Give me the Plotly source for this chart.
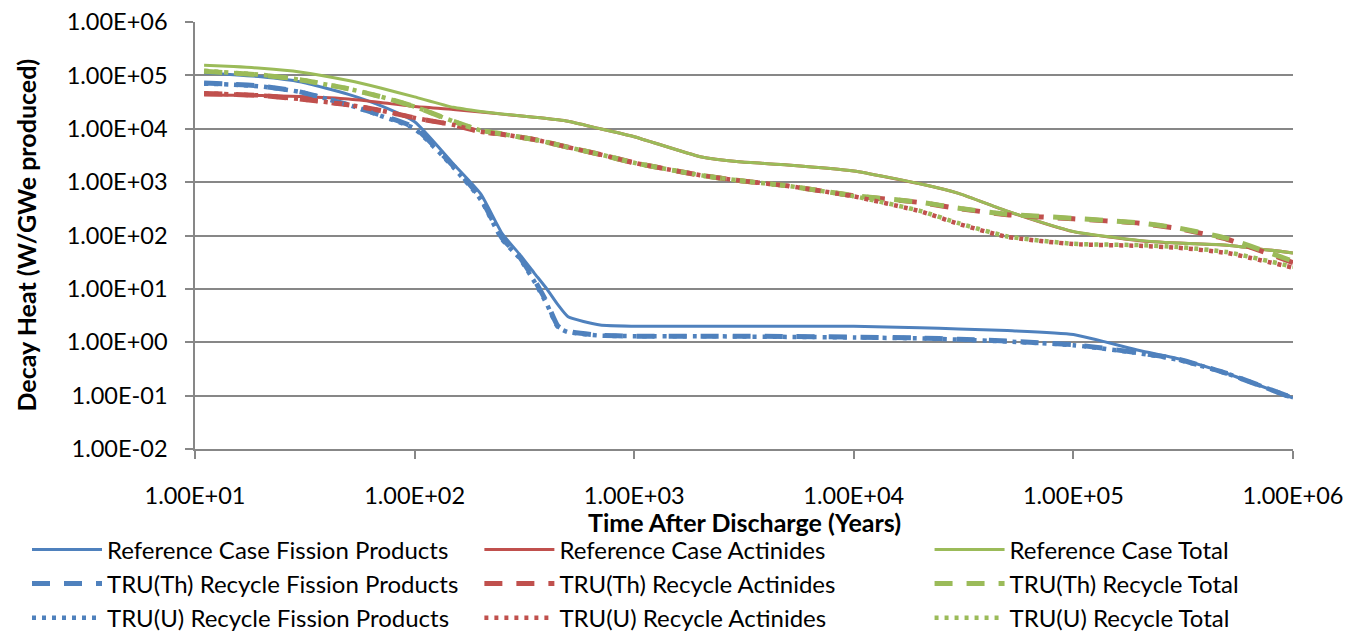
import plotly.graph_objects as go

# Time after discharge (years)
years = [11, 15, 20, 30, 50, 70, 100, 150, 200, 250, 300, 350, 400, 450, 500,
         700, 1000, 2000, 3000, 5000, 1e4, 2e4, 3e4, 5e4, 1e5, 2e5, 3e5, 5e5, 1e6]

# Decay heat (W/GWe produced)
ref_fp = [1.12e5, 1.03e5, 9.4e4, 7.6e4, 4.4e4, 2.7e4, 1.35e4, 2.2e3, 600, 110, 45, 20, 10, 5.0, 3.0,
          2.1, 2.0, 2.0, 2.0, 2.0, 2.0, 1.86, 1.78, 1.66, 1.4, 0.70, 0.49, 0.26, 0.09]
ref_act = [4.3e4, 4.25e4, 4.2e4, 4.0e4, 3.6e4, 3.1e4, 2.6e4, 2.3e4, 2.05e4, 1.88e4, 1.75e4, 1.65e4, 1.55e4, 1.47e4, 1.38e4,
           1.0e4, 7.1e3, 3.0e3, 2.4e3, 2.1e3, 1.62e3, 930, 615, 285, 118, 80, 72, 66, 47]
ref_total = [1.55e5, 1.46e5, 1.36e5, 1.16e5, 8.0e4, 5.8e4, 3.95e4, 2.52e4, 2.11e4, 1.89e4, 1.755e4, 1.65e4, 1.55e4, 1.47e4, 1.38e4,
             1.0e4, 7.1e3, 3.0e3, 2.4e3, 2.1e3, 1.62e3, 932, 617, 287, 119, 81, 72, 66, 47]

th_fp = [7.2e4, 6.8e4, 6.3e4, 4.9e4, 2.8e4, 1.8e4, 1.05e4, 2.0e3, 500, 90, 40, 15, 5.6, 2.0, 1.6,
         1.35, 1.3, 1.3, 1.3, 1.28, 1.25, 1.2, 1.14, 1.05, 0.9, 0.63, 0.48, 0.26, 0.09]
th_act = [4.6e4, 4.4e4, 4.2e4, 3.6e4, 2.8e4, 2.2e4, 1.6e4, 1.18e4, 8.8e3, 7.9e3, 7.0e3, 6.3e3, 5.6e3, 5.0e3, 4.5e3,
          3.3e3, 2.3e3, 1.35e3, 1.07e3, 850, 555, 415, 320, 245, 205, 170, 135, 85, 31]
th_total = [1.2e5, 1.1e5, 1.02e5, 8.3e4, 5.6e4, 4.0e4, 2.6e4, 1.38e4, 9.3e3, 8.0e3, 7.0e3, 6.3e3, 5.6e3, 5.0e3, 4.5e3,
            3.3e3, 2.3e3, 1.35e3, 1.07e3, 850, 560, 420, 325, 250, 210, 172, 138, 88, 33]

u_fp = [7.0e4, 6.7e4, 6.2e4, 4.9e4, 2.8e4, 1.75e4, 1.0e4, 1.9e3, 470, 85, 38, 14, 5.2, 1.9, 1.55,
        1.33, 1.3, 1.3, 1.28, 1.26, 1.23, 1.18, 1.12, 1.03, 0.88, 0.62, 0.47, 0.26, 0.09]
u_act = [4.6e4, 4.4e4, 4.2e4, 3.6e4, 2.8e4, 2.2e4, 1.6e4, 1.18e4, 8.8e3, 7.9e3, 7.0e3, 6.3e3, 5.6e3, 5.0e3, 4.5e3,
         3.3e3, 2.3e3, 1.35e3, 1.07e3, 850, 540, 285, 165, 94, 69, 64, 59, 47, 25]
u_total = [1.22e5, 1.11e5, 1.03e5, 8.3e4, 5.6e4, 4.0e4, 2.6e4, 1.38e4, 9.3e3, 8.0e3, 7.0e3, 6.3e3, 5.6e3, 5.0e3, 4.5e3,
           3.3e3, 2.3e3, 1.35e3, 1.07e3, 850, 545, 290, 170, 96, 70, 66, 61, 49, 26]

x_ticks = [10, 100, 1000, 10000, 100000, 1000000]
x_tick_labels = ["1.00E+01", "1.00E+02", "1.00E+03", "1.00E+04", "1.00E+05", "1.00E+06"]
y_ticks = [1e-2, 1e-1, 1, 10, 100, 1e3, 1e4, 1e5, 1e6]
y_tick_labels = ["1.00E-02", "1.00E-01", "1.00E+00", "1.00E+01", "1.00E+02",
                 "1.00E+03", "1.00E+04", "1.00E+05", "1.00E+06"]

x_title = "Time After Discharge (Years)"
y_title = "Decay Heat (W/GWe produced)"

BLUE, RED, GREEN = "#4F81BD", "#C0504D", "#9BBB59"
FONT = "Lato"
GRID = "#878787"

series = [
    ("Reference Case Fission Products", ref_fp, BLUE, "solid", 3, "legend"),
    ("Reference Case Actinides", ref_act, RED, "solid", 3, "legend2"),
    ("Reference Case Total", ref_total, GREEN, "solid", 3, "legend3"),
    ("TRU(Th) Recycle Fission Products", th_fp, BLUE, "18px,14px", 5, "legend"),
    ("TRU(Th) Recycle Actinides", th_act, RED, "18px,14px", 5, "legend2"),
    ("TRU(Th) Recycle Total", th_total, GREEN, "18px,14px", 5, "legend3"),
    ("TRU(U) Recycle Fission Products", u_fp, BLUE, "4px,6px", 4.5, "legend"),
    ("TRU(U) Recycle Actinides", u_act, RED, "4px,6px", 4.5, "legend2"),
    ("TRU(U) Recycle Total", u_total, GREEN, "4px,6px", 4.5, "legend3"),
]

fig = go.Figure()
for i, (name, vals, color, dash, width, leg) in enumerate(series):
    fig.add_trace(go.Scatter(
        x=years, y=vals, name=name, mode="lines",
        line=dict(color=color, dash=dash, width=width, shape="spline", smoothing=0.5),
        legend=leg, legendgroup=f"g{i}",
    ))

# Three legend columns below the axes, one per quantity
legend_common = dict(
    orientation="v", yanchor="top", xanchor="left",
    xref="paper", yref="container", y=0.167,
    font=dict(family=FONT, size=24, color="#000000"),
    itemwidth=70, tracegroupgap=0, bgcolor="rgba(0,0,0,0)",
    itemclick=False, itemdoubleclick=False,
)

axis_common = dict(
    type="log", automargin=False, zeroline=False,
    showline=True, linecolor=GRID, linewidth=1.5,
    ticks="outside", ticklen=8, tickcolor=GRID, tickwidth=1.5,
    tickfont=dict(family=FONT, size=23.5),
)

fig.update_layout(
    template="none",
    width=1363, height=633,
    margin=dict(l=195, r=70, t=22, b=184),
    paper_bgcolor="white", plot_bgcolor="white",
    font=dict(family=FONT, size=20, color="#000000"),
    legend=dict(x=-0.153, **legend_common),
    legend2=dict(x=0.259, **legend_common),
    legend3=dict(x=0.669, **legend_common),
    xaxis=dict(range=[1, 6], tickvals=x_ticks, ticktext=x_tick_labels,
               showgrid=False, ticklabelstandoff=17, **axis_common),
    yaxis=dict(range=[-2, 6], tickvals=y_ticks, ticktext=y_tick_labels,
               showgrid=True, gridcolor=GRID, gridwidth=1.5,
               ticklabelstandoff=13, **axis_common),
    annotations=[
        dict(text=f"<b>{x_title}</b>", xref="paper", yref="paper",
             x=0.5, y=-0.171, xanchor="center", yanchor="middle",
             showarrow=False, font=dict(family=FONT, size=25)),
        dict(text=f"<b>{y_title}</b>", xref="paper", yref="paper",
             x=-0.1548, y=0.5, xanchor="center", yanchor="middle",
             textangle=-90, showarrow=False, font=dict(family=FONT, size=25)),
    ],
)

fig.write_html("out.html")
